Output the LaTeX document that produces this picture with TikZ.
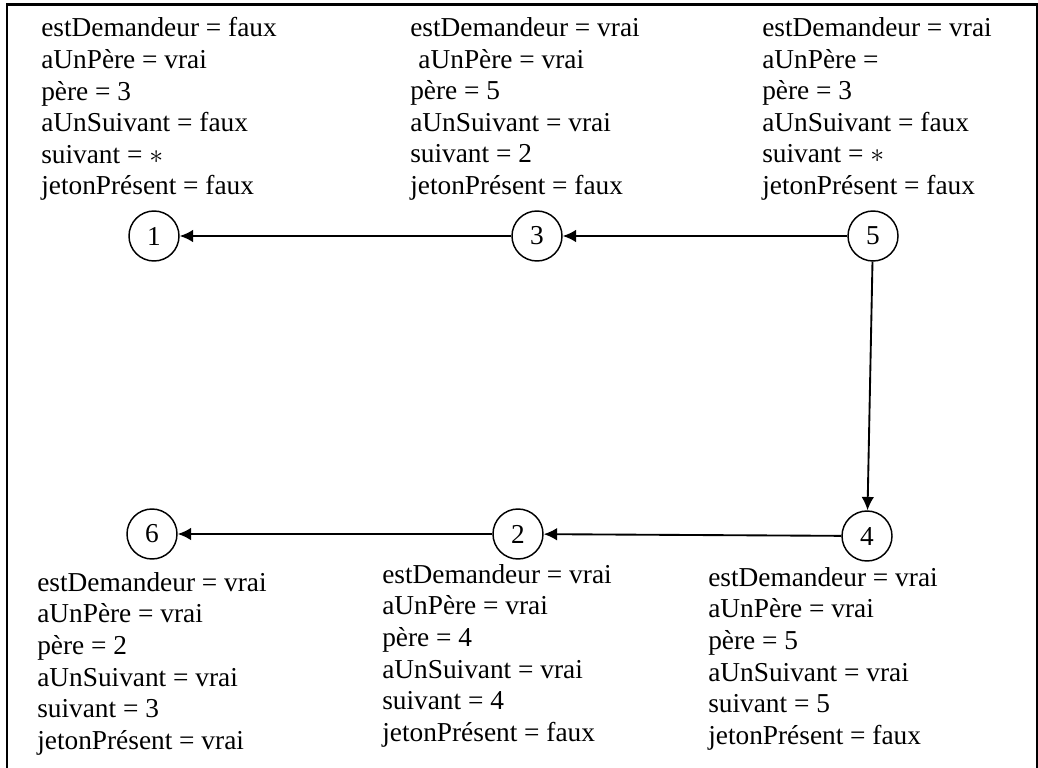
\documentclass[tikz,border=0pt]{standalone}
\usepackage{fontspec}
\setmainfont{Liberation Serif}
\usetikzlibrary{arrows.meta}
\begin{document}
\begin{tikzpicture}[x=0.75pt,y=-0.75pt,
  state/.style={circle,draw,line width=1.1pt,minimum size=37.5pt,inner sep=0pt,font=\fontsize{20.5}{24}\selectfont},
  info/.style={anchor=north west,align=left,inner sep=0pt,font=\fontsize{20.5}{23.7}\selectfont},
  link/.style={line width=1.4pt,-{Latex[length=10pt,width=9.5pt]}}]
\useasboundingbox (0,0) rectangle (1038,767);
\draw[line width=2.2pt] (7,790) -- (7,4.5) -- (1037,4.5) -- (1037,790);
% nodes
\node[state] (n1) at (154,236) {1};
\node[state] (n3) at (537,236) {3};
\node[state] (n5) at (873,236) {5};
\node[state] (n6) at (152,534) {6};
\node[state] (n2) at (518,534) {2};
\node[state] (n4) at (867,536) {4};
% texts
\node[info] (t1) at (41,17.3) {estDemandeur = faux\\aUnPère = vrai\\père = 3\\aUnSuivant = faux\\suivant = $\ast$\\jetonPrésent = faux};
\node[info] (t3) at (410,17.3) {estDemandeur = vrai\\\hspace*{0.3em}aUnPère = vrai\\père = 5\\aUnSuivant = vrai\\suivant = 2\\jetonPrésent = faux};
\node[info] (t5) at (762,17.3) {estDemandeur = vrai\\aUnPère =\\père = 3\\aUnSuivant = faux\\suivant = $\ast$\\jetonPrésent = faux};
\node[info] (t6) at (37,572) {estDemandeur = vrai\\aUnPère = vrai\\père = 2\\aUnSuivant = vrai\\suivant = 3\\jetonPrésent = vrai};
\node[info] (t2) at (382,564) {estDemandeur = vrai\\aUnPère = vrai\\père = 4\\aUnSuivant = vrai\\suivant = 4\\jetonPrésent = faux};
\node[info] (t4) at (708,567) {estDemandeur = vrai\\aUnPère = vrai\\père = 5\\aUnSuivant = vrai\\suivant = 5\\jetonPrésent = faux};
% connectors
\draw[link] (n3) -- (n1);
\draw[link] (n5) -- (n3);
\draw[link] (n5) -- (n4);
\draw[link] (n4) -- (n2);
\draw[link] (n2) -- (n6);
\end{tikzpicture}
\end{document}
